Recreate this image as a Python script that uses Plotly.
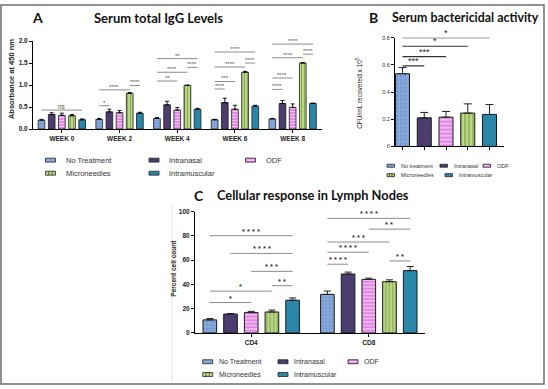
import plotly.graph_objects as go

W, H = 548, 389

# ---------------- data ----------------
treatments = ["No Treatment", "Intranasal", "ODF", "Microneedles", "Intramuscular"]
treatments_b = ["No treatment", "Intranasal", "ODF", "Microneedles", "Intramuscular"]

# Panel A: Serum total IgG (absorbance at 450 nm)
weeks = ["WEEK 0", "WEEK 2", "WEEK 4", "WEEK 6", "WEEK 8"]
igg_nt = [0.20, 0.22, 0.24, 0.21, 0.23]
igg_in = [0.33, 0.39, 0.55, 0.60, 0.58]
igg_odf = [0.31, 0.37, 0.43, 0.45, 0.49]
igg_mn = [0.30, 0.81, 0.99, 1.29, 1.50]
igg_im = [0.21, 0.36, 0.45, 0.52, 0.58]
igg_nt_err = [0.02, 0.02, 0.02, 0.01, 0.01]
igg_in_err = [0.04, 0.06, 0.08, 0.10, 0.07]
igg_odf_err = [0.05, 0.05, 0.06, 0.09, 0.08]
igg_mn_err = [0.03, 0.02, 0.01, 0.02, 0.01]
igg_im_err = [0.02, 0.02, 0.02, 0.02, 0.01]
sig_a_group = [0, 1, 1, 1, 2, 2, 2, 2, 3, 3, 3, 3, 3, 4, 4, 4, 4, 4]
sig_a_from = [0, 0, 0, 3, 0, 0, 3, 0, 0, 0, 0, 3, 0, 0, 0, 0, 3, 0]
sig_a_to = [4, 1, 3, 4, 2, 3, 4, 4, 1, 2, 3, 4, 4, 1, 2, 3, 4, 4]
sig_a_y = [0.43, 0.53, 0.89, 0.99, 1.09, 1.29, 1.40, 1.60, 0.91, 1.08, 1.41, 1.50, 1.75,
           0.90, 1.16, 1.62, 1.70, 1.93]
sig_a_label = ["ns", "*", "****", "****", "**", "****", "****", "**", "****", "***", "****",
               "****", "****", "****", "****", "****", "****", "****"]

# Panel B: Serum bactericidal activity
bact = [0.535, 0.21, 0.215, 0.245, 0.235]
bact_err = [0.045, 0.04, 0.042, 0.068, 0.073]
sig_b_from = [0, 0, 0, 0]
sig_b_to = [1, 2, 3, 4]
sig_b_y = [0.593, 0.66, 0.737, 0.80]
sig_b_label = ["***", "***", "*", "*"]

# Panel C: Cellular response in lymph nodes
cell_groups = ["CD4", "CD8"]
cell_nt = [10.8, 31.8]
cell_in = [15.6, 48.6]
cell_odf = [16.8, 44.2]
cell_mn = [17.3, 42.3]
cell_im = [27.0, 51.4]
cell_nt_err = [1.1, 2.8]
cell_in_err = [0.4, 1.6]
cell_odf_err = [1.0, 1.0]
cell_mn_err = [1.6, 1.5]
cell_im_err = [1.9, 3.4]
sig_c_group = [0, 0, 0, 0, 0, 0, 1, 1, 1, 1, 1, 1]
sig_c_from = [0, 0, 3, 2, 1, 0, 0, 0, 0, 2, 0, 3]
sig_c_to = [2, 3, 4, 4, 4, 4, 1, 2, 3, 4, 4, 4]
sig_c_y = [25.1, 34.5, 39.0, 50.8, 65.6, 80.2, 56.7, 66.6, 75.0, 85.6, 94.5, 59.4]
sig_c_label = ["*", "*", "**", "***", "****", "****", "****", "****", "***", "**", "****", "**"]

# ---------------- styles ----------------
colors = ["#87a8db", "#4d3f70", "#e286e4", "#b9d982", "#2b87a9"]
pat_shape = [".", "x", "-", "|", ""]
pat_fg = ["#5d80b8", "#1c1533", "#ffffff", "#4f6622", "#2b87a9"]
pat_sol = [0.25, 0.15, 0.4, 0.3, 0.0]
EDGE = "#1a1a1a"


def pxx(x):
    return x / W


def pyy(y):
    return 1 - y / H


A_x0, A_x1, A_yb, A_yt = 33, 321.5, 127.3, 37.7
B_x0, B_x1, B_yb, B_yt = 395, 504, 145, 34.3
C_x0, C_x1, C_yb, C_yt = 195, 425, 335, 211.5
SLOT = 0.176
BW_AC = 0.116
BW_B = 0.644

fig = go.Figure()

igg_vals = [igg_nt, igg_in, igg_odf, igg_mn, igg_im]
igg_errs = [igg_nt_err, igg_in_err, igg_odf_err, igg_mn_err, igg_im_err]
cell_vals = [cell_nt, cell_in, cell_odf, cell_mn, cell_im]
cell_errs = [cell_nt_err, cell_in_err, cell_odf_err, cell_mn_err, cell_im_err]


def marker(k, size, lw):
    pat = dict(shape=pat_shape[k], fgcolor=pat_fg[k], bgcolor=colors[k],
               size=size, solidity=pat_sol[k] if pat_sol[k] > 0 else 0.01, fillmode="overlay")
    return dict(color=colors[k], line=dict(color=EDGE, width=lw), pattern=pat)


for k in range(5):
    n = len(weeks)
    fig.add_trace(go.Bar(
        x=[g + (k - 2) * SLOT for g in range(n)], y=igg_vals[k], width=BW_AC,
        marker=marker(k, 3, 0.8), name=treatments[k], showlegend=False,
        error_y=dict(type="data", symmetric=False, array=igg_errs[k], arrayminus=[0] * n,
                     color="black", thickness=0.9, width=2),
        xaxis="x", yaxis="y"))

for k in range(5):
    fig.add_trace(go.Bar(
        x=[k], y=[bact[k]], width=BW_B,
        marker=marker(k, 4, 1), name=treatments_b[k], showlegend=False,
        error_y=dict(type="data", symmetric=False, array=[bact_err[k]], arrayminus=[0],
                     color="#222", thickness=1, width=4),
        xaxis="x2", yaxis="y2"))

for k in range(5):
    n = len(cell_groups)
    fig.add_trace(go.Bar(
        x=[g + (k - 2) * SLOT for g in range(n)], y=cell_vals[k], width=BW_AC,
        marker=marker(k, 3.5, 1), name=treatments[k], showlegend=False,
        error_y=dict(type="data", symmetric=False, array=cell_errs[k], arrayminus=[0] * n,
                     color="#222", thickness=1, width=3.5),
        xaxis="x3", yaxis="y3"))

shapes = []
annotations = []

# significance brackets
def add_sig(xref, yref, x0, x1, y, label, lcol, lw, fsize, fcol, bold=False):
    shapes.append(dict(type="line", xref=xref, yref=yref, x0=x0, x1=x1, y0=y, y1=y,
                       line=dict(color=lcol, width=lw)))
    annotations.append(dict(xref=xref, yref=yref, x=(x0 + x1) / 2, y=y, text=label,
                            showarrow=False, yanchor="bottom", yshift=-2,
                            font=dict(family="Liberation Sans", size=fsize, color=fcol,
                                      weight="bold" if bold else "normal")))


for g, a, b, yv, lab in zip(sig_a_group, sig_a_from, sig_a_to, sig_a_y, sig_a_label):
    add_sig("x", "y", g + (a - 2) * SLOT, g + (b - 2) * SLOT, yv, lab,
            "#8c8c8c", 1, 6 if lab != "ns" else 6.5, "#555")

for a, b, yv, lab in zip(sig_b_from, sig_b_to, sig_b_y, sig_b_label):
    add_sig("x2", "y2", a, b, yv, lab, "#333", 1.2, 9, "#222")

for g, a, b, yv, lab in zip(sig_c_group, sig_c_from, sig_c_to, sig_c_y, sig_c_label):
    add_sig("x3", "y3", g + (a - 2) * SLOT, g + (b - 2) * SLOT, yv, " ".join(lab),
            "#8c8c8c", 1, 7.5, "#333", bold=True)

# panel titles
def ptext(x, y, text, size, xanchor="center", family="Lato", weight="bold", color="#111",
          angle=0):
    annotations.append(dict(xref="paper", yref="paper", x=pxx(x), y=pyy(y), text=text,
                            showarrow=False, xanchor=xanchor, yanchor="middle",
                            textangle=angle,
                            font=dict(family=family, size=size, color=color, weight=weight)))


ptext(37, 14, "A", 14)
ptext(158.5, 14, "Serum total IgG Levels", 13)
ptext(373.5, 14, "B", 14)
ptext(390, 14, "Serum bactericidal activity", 12.4, xanchor="left")
ptext(199, 195, "C", 14)
ptext(312.8, 195, "Cellular response in Lymph Nodes", 12.8)

# axis titles
ptext(11.5, 77, "Absorbance at 450 nm", 7.5, family="Liberation Sans", angle=-90, color="#222")
ptext(359.5, 91, "CFU/mL recovered x 10<sup>5</sup>", 6.5, family="Liberation Sans",
      weight="normal", angle=-90, color="#222")
ptext(173.5, 269, "Percent cell count", 6.5, family="Liberation Sans", angle=-90, color="#222")

# legends (swatch + label)
leg_a_x = [45.5, 149, 245.5, 45.5, 149]
leg_a_y = [159, 159, 159, 172.3, 172.3]
leg_b_x = [387, 440, 483, 387, 445]
leg_b_y = [164.7, 164.7, 164.7, 174.3, 174.3]
leg_c_x = [202.7, 278, 348, 202.7, 278]
leg_c_y = [364.3, 364.3, 364.3, 377.3, 377.3]


def legend(xs, ys, labels, sw, sh, gap, fsize):
    for k in range(5):
        x0, yc = xs[k], ys[k]
        shapes.append(dict(type="rect", xref="paper", yref="paper",
                           x0=pxx(x0), x1=pxx(x0 + sw), y0=pyy(yc - sh / 2), y1=pyy(yc + sh / 2),
                           fillcolor=colors[k], line=dict(color="#222", width=0.8)))
        if pat_shape[k] == "-":
            shapes.append(dict(type="line", xref="paper", yref="paper",
                               x0=pxx(x0 + 1), x1=pxx(x0 + sw - 1), y0=pyy(yc), y1=pyy(yc),
                               line=dict(color="white", width=0.8)))
        if pat_shape[k] == "|":
            for f in (0.33, 0.66):
                shapes.append(dict(type="line", xref="paper", yref="paper",
                                   x0=pxx(x0 + sw * f), x1=pxx(x0 + sw * f),
                                   y0=pyy(yc - sh / 2), y1=pyy(yc + sh / 2),
                                   line=dict(color="#3d4f1a", width=0.8)))
        annotations.append(dict(xref="paper", yref="paper", x=pxx(x0 + sw + gap), y=pyy(yc),
                                text=labels[k], showarrow=False, xanchor="left",
                                yanchor="middle",
                                font=dict(family="Liberation Sans", size=fsize, color="#333")))


legend(leg_a_x, leg_a_y, treatments, 10, 4, 8, 7.5)
legend(leg_b_x, leg_b_y, treatments_b, 7.5, 3, 4, 5.5)
legend(leg_c_x, leg_c_y, treatments, 10, 4, 4, 7)

# figure border & faint pasted-image edge
shapes.append(dict(type="rect", xref="paper", yref="paper", x0=pxx(1), x1=pxx(544),
                   y0=pyy(387), y1=pyy(1), line=dict(color="#6e6e6e", width=1.5)))
shapes.append(dict(type="line", xref="paper", yref="paper", x0=pxx(172), x1=pxx(172),
                   y0=pyy(385), y1=pyy(204), line=dict(color="#e6e6e6", width=1)))

tick_bold = dict(family="Liberation Sans", size=6.5, color="#222", weight="bold")
common = dict(showline=True, linecolor="black", linewidth=1, showgrid=False, zeroline=False,
              ticks="outside", ticklen=3, tickwidth=1, tickcolor="black")

fig.update_layout(
    width=W, height=H, margin=dict(l=0, r=0, t=0, b=0),
    paper_bgcolor="white", plot_bgcolor="white", barmode="overlay", showlegend=False,
    xaxis=dict(domain=[pxx(A_x0), pxx(A_x1)], range=[-0.5, 4.5], anchor="y",
               tickvals=list(range(len(weeks))), ticktext=weeks, tickfont=tick_bold, **common),
    yaxis=dict(domain=[pyy(A_yb), pyy(A_yt)], range=[0, 2.0], anchor="x", dtick=0.5,
               tickformat=".1f", tickfont=tick_bold, **common),
    xaxis2=dict(domain=[pxx(B_x0), pxx(B_x1)], range=[-0.345, 4.667], anchor="y2",
                tickvals=list(range(5)), showticklabels=False, **common),
    yaxis2=dict(domain=[pyy(B_yb), pyy(B_yt)], range=[0, 0.8], anchor="x2",
                tickvals=[0, 0.2, 0.4, 0.6, 0.8], ticktext=["0", "0.2", "0.4", "0.6", "0.8"],
                tickfont=dict(family="Liberation Sans", size=5.5, color="#333"), **common),
    xaxis3=dict(domain=[pxx(C_x0), pxx(C_x1)], range=[-0.478, 1.478], anchor="y3",
                tickvals=list(range(len(cell_groups))), ticktext=cell_groups,
                tickfont=tick_bold, **common),
    yaxis3=dict(domain=[pyy(C_yb), pyy(C_yt)], range=[0, 100], anchor="x3", dtick=20,
                tickfont=tick_bold, **common),
    shapes=shapes, annotations=annotations,
)

fig.write_html("out.html", config={"displayModeBar": False},
               post_script="document.body.style.margin='0px';"
                           "document.body.style.overflow='hidden';")
